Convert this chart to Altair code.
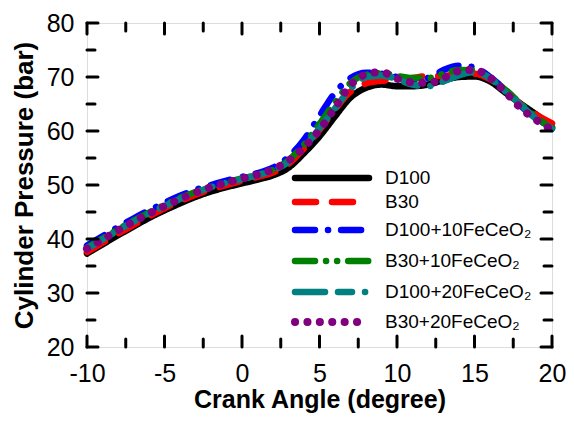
import altair as alt
import pandas as pd

# ---------------- data ----------------
angle = list(range(-10, 21))

d100 = [37.3, 39.0, 40.7, 42.3, 43.9, 45.3, 46.6, 47.8, 48.8, 49.6, 50.3,
        51.0, 51.8, 53.2, 55.9, 59.0, 62.7, 66.2, 68.0, 68.6, 68.3,
        68.3, 68.6, 69.4, 70.0, 70.1, 69.2, 67.1, 65.0, 63.0, 60.7]
b30 = [37.6, 39.3, 41.0, 42.6, 44.2, 45.7, 47.0, 48.2, 49.2, 50.0, 50.8,
       51.5, 52.3, 53.9, 56.8, 60.2, 64.0, 67.3, 68.8, 69.3, 69.5,
       69.8, 70.2, 70.2, 70.6, 70.6, 69.6, 67.6, 64.9, 63.0, 61.4]
d100_10 = [38.8, 40.5, 42.2, 43.8, 45.3, 46.7, 48.0, 49.1, 50.0, 50.8, 51.5,
           52.2, 53.2, 55.2, 58.4, 62.8, 67.1, 69.8, 70.8, 70.6, 70.0,
           69.6, 69.8, 71.3, 72.1, 71.8, 70.0, 67.6, 64.6, 62.3, 60.6]
b30_10 = [38.4, 40.1, 41.8, 43.4, 44.9, 46.3, 47.6, 48.7, 49.7, 50.5, 51.2,
          51.9, 52.8, 54.6, 57.5, 61.3, 65.3, 68.9, 70.4, 70.7, 70.2,
          69.8, 69.8, 70.6, 71.3, 71.2, 69.8, 67.6, 65.0, 62.5, 60.5]
d100_20 = [38.2, 39.9, 41.6, 43.2, 44.7, 46.1, 47.4, 48.6, 49.6, 50.4, 51.1,
           51.8, 52.7, 54.3, 57.0, 60.5, 64.2, 67.8, 70.0, 70.3, 69.6,
           68.6, 68.3, 69.2, 70.3, 70.9, 69.8, 67.3, 64.8, 62.2, 60.4]
b30_20 = [38.2, 39.9, 41.6, 43.2, 44.7, 46.1, 47.4, 48.6, 49.6, 50.4, 51.2,
          51.9, 52.9, 54.5, 57.0, 60.2, 64.3, 68.5, 70.5, 70.9, 69.7,
          69.0, 68.9, 69.8, 71.1, 71.3, 69.9, 67.2, 64.2, 62.0, 60.2]

series_names = ["D100", "B30", "D100+10FeCeO\u2082", "B30+10FeCeO\u2082",
                "D100+20FeCeO\u2082", "B30+20FeCeO\u2082"]
series_values = [d100, b30, d100_10, b30_10, d100_20, b30_20]

x_major = [-10, -5, 0, 5, 10, 15, 20]
x_minor = [-7.5, -2.5, 2.5, 7.5, 12.5, 17.5]
y_major = [20, 30, 40, 50, 60, 70, 80]
y_minor = [25, 35, 45, 55, 65, 75]

# ---------------- style ----------------
W, H = 465, 324
FONT = "Liberation Sans"
colors = ["#000000", "#ff0000", "#0000ff", "#008000", "#008080", "#800080"]
dashes = [[1, 0], [21, 16], [20, 13, 0.1, 13], [20, 11, 0.1, 11, 0.1, 11],
          [30, 13, 14, 13, 0.1, 13], [0.1, 12.3]]
widths = [6.5, 6.5, 6.5, 6.5, 6.5, 8]
legend_rows = [155, 179, 207, 238, 269, 299]
leg_x0, leg_x1, leg_tx = 208, 282, 298
MAJ, MIN = 11, 8

xscale = alt.Scale(domain=[-10, 20], nice=False, zero=False)
yscale = alt.Scale(domain=[20, 80], nice=False, zero=False)

xaxis = alt.Axis(values=x_major, grid=False, domain=False, ticks=False, tickSize=0,
                 labelFlush=False, labelExpr="'' + datum.value",
                 labelFont=FONT, labelFontSize=25, labelColor="black", labelPadding=14,
                 title="Crank Angle (degree)", titleFont=FONT, titleFontSize=25,
                 titleFontWeight="bold", titleColor="black", titlePadding=1)
yaxis = alt.Axis(values=y_major, grid=False, domain=False, ticks=False, tickSize=0,
                 labelFlush=False, labelExpr="'' + datum.value",
                 labelFont=FONT, labelFontSize=25, labelColor="black", labelPadding=13,
                 title="Cylinder Pressure (bar)", titleFont=FONT, titleFontSize=26,
                 titleFontWeight="bold", titleColor="black", titlePadding=9)


def X(field="angle"):
    return alt.X(f"{field}:Q", scale=xscale, axis=xaxis)


def Y(field="pressure"):
    return alt.Y(f"{field}:Q", scale=yscale, axis=yaxis)


layers = []

# data lines
for name, vals, c, d, w in zip(series_names, series_values, colors, dashes, widths):
    df = pd.DataFrame({"angle": angle, "pressure": vals})
    layers.append(
        alt.Chart(df).mark_line(color=c, strokeDash=d, strokeWidth=w,
                                strokeCap="round", interpolate="monotone")
        .encode(x=X(), y=Y())
    )

# inward ticks on all four sides
xt_maj = pd.DataFrame({"angle": x_major})
xt_min = pd.DataFrame({"angle": x_minor})
yt_maj = pd.DataFrame({"pressure": y_major})
yt_min = pd.DataFrame({"pressure": y_minor})
tick_style = dict(color="black", strokeWidth=3, strokeCap="round")
for df, L in [(xt_maj, MAJ), (xt_min, MIN)]:
    layers.append(alt.Chart(df).mark_rule(**tick_style).encode(
        x=X(), y=alt.value(H), y2=alt.value(H - L)))
    layers.append(alt.Chart(df).mark_rule(**tick_style).encode(
        x=X(), y=alt.value(0), y2=alt.value(L)))
for df, L in [(yt_maj, MAJ), (yt_min, MIN)]:
    layers.append(alt.Chart(df).mark_rule(**tick_style).encode(
        y=Y(), x=alt.value(0), x2=alt.value(L)))
    layers.append(alt.Chart(df).mark_rule(**tick_style).encode(
        y=Y(), x=alt.value(W), x2=alt.value(W - L)))

# legend (inside the plot)
for name, c, d, w, ry in zip(series_names, colors, dashes, widths, legend_rows):
    ldf = pd.DataFrame({"name": [name]})
    layers.append(
        alt.Chart(ldf).mark_rule(color=c, strokeDash=d, strokeWidth=w, strokeCap="round")
        .encode(x=alt.value(leg_x0), x2=alt.value(leg_x1), y=alt.value(ry))
    )
    layers.append(
        alt.Chart(ldf).mark_text(font=FONT, fontSize=19, color="black", align="left",
                                 baseline="middle")
        .encode(text="name:N", x=alt.value(leg_tx), y=alt.value(ry))
    )

chart = (
    alt.layer(*layers)
    .properties(width=W, height=H,
                autosize=alt.AutoSizeParams(type="none"),
                padding={"left": 79, "top": 15, "right": 14, "bottom": 68})
    .configure_view(stroke="black", strokeWidth=6)
    .configure(background="white")
)

chart.save("out.html", embed_options={"renderer": "svg", "actions": False})
